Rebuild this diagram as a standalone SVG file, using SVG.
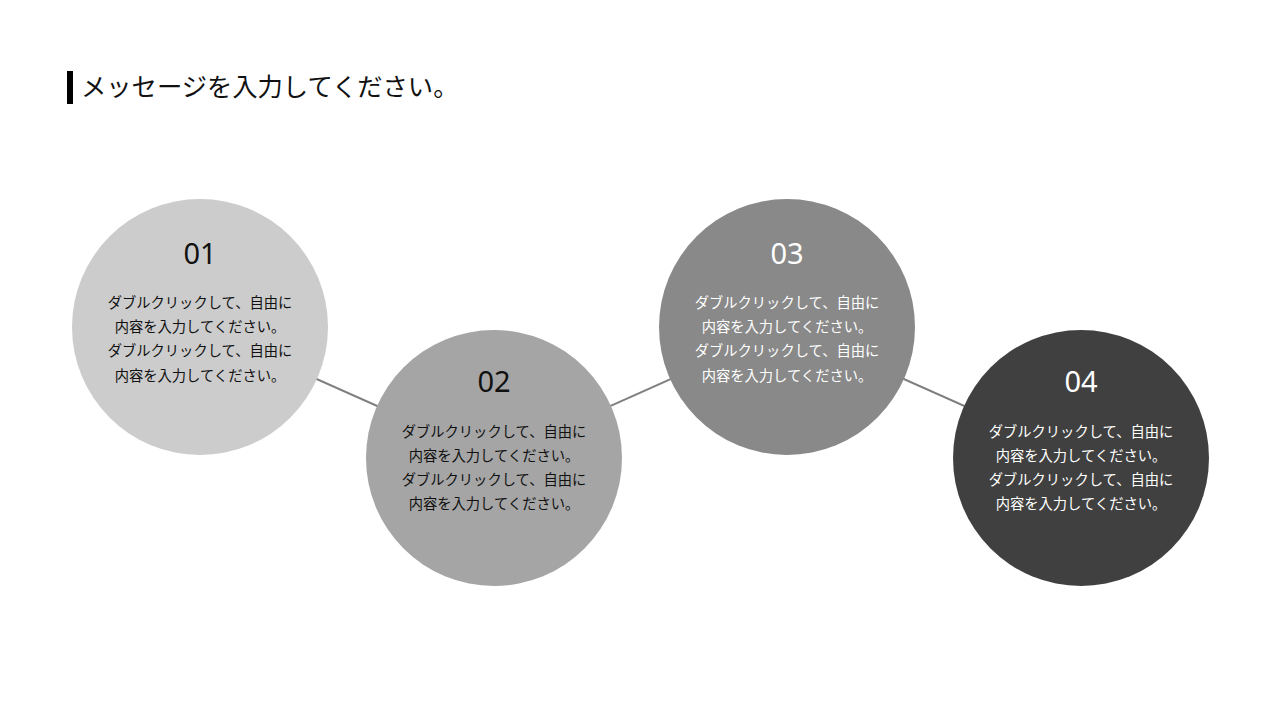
<svg xmlns="http://www.w3.org/2000/svg" width="1280" height="720" viewBox="0 0 1280 720">
<style>
.t{font-family:"Noto Sans CJK JP","Noto Sans",sans-serif;}
.num{font-family:"Noto Sans","Noto Sans CJK JP",sans-serif;font-size:29px;text-anchor:middle;}
.body{font-family:"Noto Sans CJK JP",sans-serif;font-size:14.3px;text-anchor:middle;}
.dk{fill:#111111;}
.lt{fill:#ffffff;}
.conn{stroke:#7f7f7f;stroke-width:2;fill:none;}
</style>
<rect width="1280" height="720" fill="#ffffff"/>
<g id="title">
<rect x="67" y="71" width="6" height="33" fill="#000000"/>
<text x="81" y="96" class="t" font-size="25.3" fill="#111111">メッセージを入力してください。</text>
</g>
<g id="connectors">
<line class="conn" x1="200" y1="327" x2="494" y2="458"/>
<line class="conn" x1="494" y1="458" x2="787" y2="327"/>
<line class="conn" x1="787" y1="327" x2="1081" y2="458"/>
</g>
<g id="node1">
<circle cx="200" cy="327" r="128" fill="#cccccc"/>
<text x="200" y="264" class="num dk">01</text>
<text class="body dk"><tspan x="200" y="308">ダブルクリックして、自由に</tspan><tspan x="200" y="332">内容を入力してください。</tspan><tspan x="200" y="356">ダブルクリックして、自由に</tspan><tspan x="200" y="381">内容を入力してください。</tspan></text>
</g>
<g id="node2">
<circle cx="494" cy="458" r="128" fill="#a5a5a5"/>
<text x="494" y="392" class="num dk">02</text>
<text class="body dk"><tspan x="494" y="437">ダブルクリックして、自由に</tspan><tspan x="494" y="461">内容を入力してください。</tspan><tspan x="494" y="485">ダブルクリックして、自由に</tspan><tspan x="494" y="509">内容を入力してください。</tspan></text>
</g>
<g id="node3">
<circle cx="787" cy="327" r="128" fill="#898989"/>
<text x="787" y="264" class="num lt">03</text>
<text class="body lt"><tspan x="787" y="308">ダブルクリックして、自由に</tspan><tspan x="787" y="332">内容を入力してください。</tspan><tspan x="787" y="356">ダブルクリックして、自由に</tspan><tspan x="787" y="381">内容を入力してください。</tspan></text>
</g>
<g id="node4">
<circle cx="1081" cy="458" r="128" fill="#404040"/>
<text x="1081" y="392" class="num lt">04</text>
<text class="body lt"><tspan x="1081" y="437">ダブルクリックして、自由に</tspan><tspan x="1081" y="461">内容を入力してください。</tspan><tspan x="1081" y="485">ダブルクリックして、自由に</tspan><tspan x="1081" y="509">内容を入力してください。</tspan></text>
</g>
</svg>
